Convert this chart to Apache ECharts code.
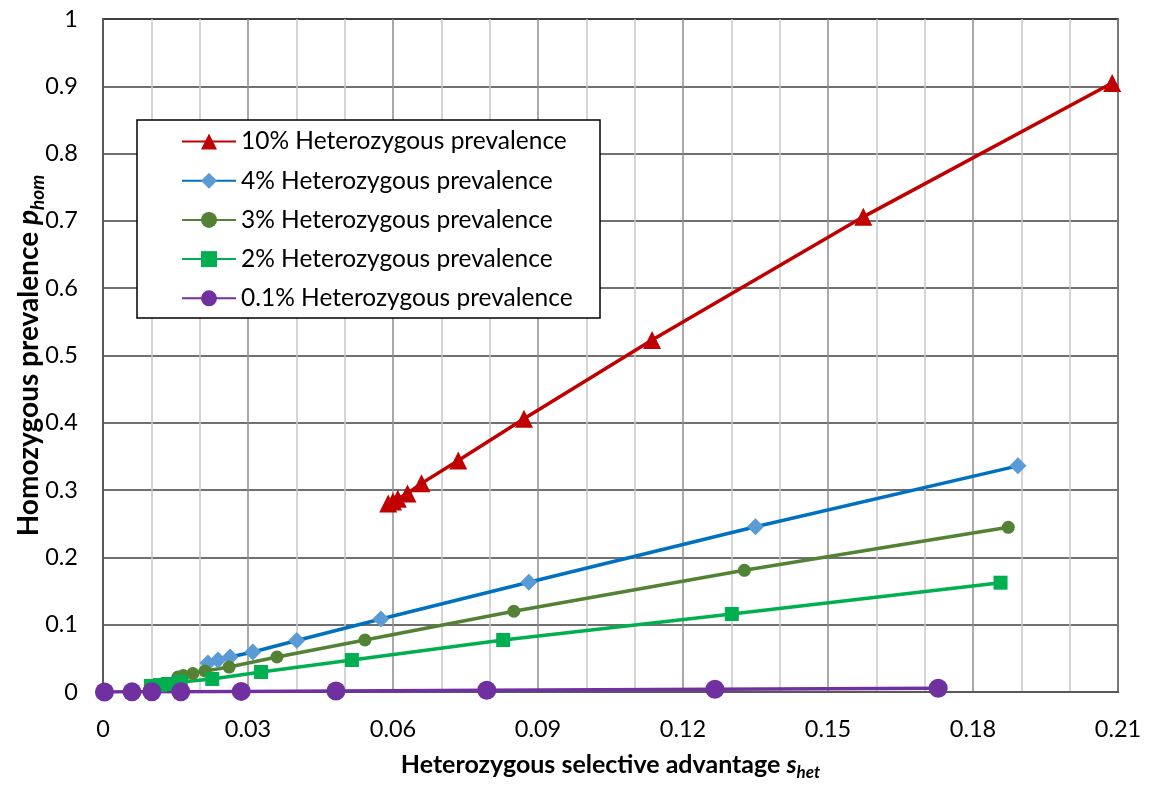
<!DOCTYPE html>
<html>
<head>
<meta charset="utf-8">
<script src="https://cdn.jsdelivr.net/npm/echarts@6/dist/echarts.min.js"></script>
<style>
  html, body { margin: 0; padding: 0; background: #fff; }
  #chart { width: 1156px; height: 785px; }
</style>
</head>
<body>
<div id="chart"></div>
<script>
// Heterozygous selective advantage (x) vs homozygous prevalence (y), one line per heterozygous prevalence
const seriesNames = [
  '10% Heterozygous prevalence',
  '4% Heterozygous prevalence',
  '3% Heterozygous prevalence',
  '2% Heterozygous prevalence',
  '0.1% Heterozygous prevalence'
];

const sHet10 = [0.0590, 0.0600, 0.0610, 0.0630, 0.0659, 0.0735, 0.0871, 0.1136, 0.1573, 0.2088];
const pHom10 = [0.280, 0.283, 0.287, 0.295, 0.310, 0.344, 0.406, 0.523, 0.706, 0.905];

const sHet4 = [0.0217, 0.0238, 0.0263, 0.0310, 0.0401, 0.0575, 0.0881, 0.1350, 0.1893];
const pHom4 = [0.0431, 0.0475, 0.0520, 0.0594, 0.0765, 0.1085, 0.1630, 0.2456, 0.3360];

const sHet3 = [0.0155, 0.0166, 0.0186, 0.0211, 0.0261, 0.0360, 0.0542, 0.0850, 0.1327, 0.1873];
const pHom3 = [0.0223, 0.0245, 0.0275, 0.0312, 0.0371, 0.0520, 0.0773, 0.1200, 0.1808, 0.2447];

const sHet2 = [0.0099, 0.0118, 0.0134, 0.0161, 0.0226, 0.0327, 0.0515, 0.0828, 0.1301, 0.1857];
const pHom2 = [0.0089, 0.0104, 0.0119, 0.0149, 0.0193, 0.0297, 0.0475, 0.0773, 0.1159, 0.1624];

const sHet01 = [0.0003, 0.0060, 0.0101, 0.0161, 0.0286, 0.0482, 0.0794, 0.1266, 0.1728];
const pHom01 = [0.0001, 0.0002, 0.0003, 0.0005, 0.0009, 0.0015, 0.0027, 0.0042, 0.0055];

const xTicks = [0, 0.03, 0.06, 0.09, 0.12, 0.15, 0.18, 0.21];
const yTicks = [0, 0.1, 0.2, 0.3, 0.4, 0.5, 0.6, 0.7, 0.8, 0.9, 1];

const FONT = 'Lato, "Open Sans", sans-serif';

function pairs(xs, ys) {
  return xs.map((x, i) => [x, ys[i]]);
}

function lineSeries(name, xs, ys, lineColor, markerColor, symbol, size) {
  return {
    name: name,
    type: 'line',
    data: pairs(xs, ys),
    symbol: symbol,
    symbolSize: size,
    showAllSymbol: true,
    lineStyle: { color: lineColor, width: 3.5 },
    itemStyle: { color: markerColor, borderWidth: 0 },
    emphasis: { disabled: true },
    animation: false
  };
}

function titleRich(size, subSize) {
  return {
    b: { fontFamily: FONT, fontSize: size, fontWeight: 'bold', color: '#000' },
    bi: { fontFamily: FONT, fontSize: size, fontWeight: 'bold', fontStyle: 'italic', color: '#000' },
    sub: { fontFamily: FONT, fontSize: subSize, fontWeight: 'bold', fontStyle: 'italic', color: '#000',
           padding: [Math.round(size * 0.6), 0, 0, 0] }
  };
}

const chart = echarts.init(document.getElementById('chart'), null, { renderer: 'canvas' });

chart.setOption({
  backgroundColor: '#ffffff',
  animation: false,
  grid: {
    left: 103, right: 38, top: 19, bottom: 93,
    containLabel: false,
    outerBoundsMode: 'none',
    show: true, borderColor: '#000000', borderWidth: 1.5, backgroundColor: 'transparent'
  },
  xAxis: {
    type: 'value',
    min: xTicks[0],
    max: xTicks[xTicks.length - 1],
    interval: 0.03,
    name: '{b|Heterozygous selective advantage }{bi|s}{sub|het}',
    nameLocation: 'middle',
    nameGap: 57,
    nameMoveOverlap: false,
    nameTextStyle: { rich: titleRich(25, 17) },
    axisLine: { show: true, onZero: false, lineStyle: { color: '#595959', width: 2 } },
    axisTick: { show: false },
    axisLabel: {
      fontFamily: FONT, fontSize: 23.5, color: '#000', margin: 25,
      formatter: v => String(+v.toFixed(2))
    },
    splitLine: { show: true, lineStyle: { color: '#8c8c8c', width: 1.5 } },
    minorTick: { show: false, splitNumber: 3 },
    minorSplitLine: { show: true, lineStyle: { color: '#c8c8c8', width: 1.5 } }
  },
  yAxis: {
    type: 'value',
    min: yTicks[0],
    max: yTicks[yTicks.length - 1],
    interval: 0.1,
    name: '{b|Homozygous prevalence }{bi|p}{sub|hom}',
    nameLocation: 'middle',
    nameRotate: 90,
    nameGap: 56,
    nameMoveOverlap: false,
    nameTextStyle: { rich: titleRich(28, 19) },
    axisLine: { show: true, onZero: false, lineStyle: { color: '#595959', width: 2 } },
    axisTick: { show: false },
    axisLabel: {
      fontFamily: FONT, fontSize: 23.5, color: '#000', margin: 25,
      formatter: v => String(+v.toFixed(1))
    },
    splitLine: { show: true, lineStyle: { color: '#404040', width: 1.5 } }
  },
  graphic: [{
    type: 'rect',
    z: 3,
    silent: true,
    shape: { x: 137, y: 120, width: 463, height: 198 },
    style: { fill: '#ffffff', stroke: '#000000', lineWidth: 1.5 }
  }],
  legend: {
    orient: 'vertical',
    left: 181,
    top: 129,
    padding: 0,
    itemWidth: 54,
    itemHeight: 20,
    itemGap: 14.2,
    selectedMode: false,
    textStyle: { fontFamily: FONT, fontSize: 24.5, color: '#000', padding: [0, 0, 0, 0] },
    data: seriesNames
  },
  series: [
    lineSeries(seriesNames[0], sHet10, pHom10, '#C00000', '#C00000', 'triangle', 18),
    lineSeries(seriesNames[1], sHet4, pHom4, '#0070C0', '#5B9BD5', 'diamond', 17),
    lineSeries(seriesNames[2], sHet3, pHom3, '#548235', '#548235', 'circle', 13),
    lineSeries(seriesNames[3], sHet2, pHom2, '#00B050', '#00B050', 'rect', 14),
    lineSeries(seriesNames[4], sHet01, pHom01, '#7030A0', '#7030A0', 'circle', 19)
  ]
});
</script>
</body>
</html>
